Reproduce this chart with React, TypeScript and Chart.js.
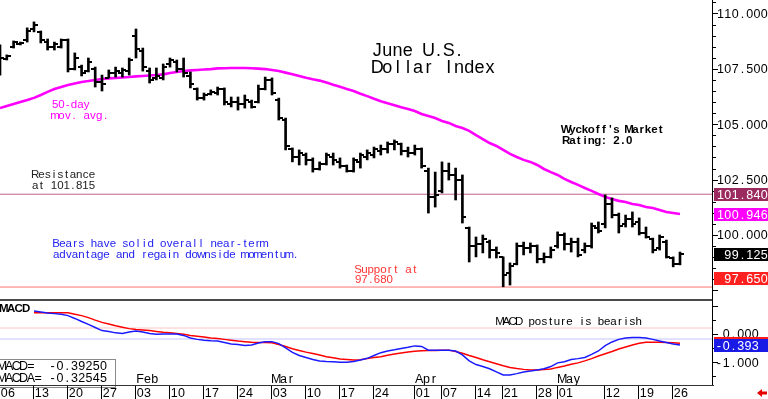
import React, { useEffect, useRef } from "react";
import { Chart, registerables } from "chart.js";
Chart.register(...registerables);

// ---------- DATA (one entry per trading day, Jan 06 .. May 27) ----------
const opens = [
  107.4, 107.95, 108.5, 108.62, 108.8, 109.3, 109.15, 108.7, 108.5, 108.5,
  108.8, 107.5, 107.6, 107.4, 107.5, 106.9, 107.1, 107.3, 107.3, 107.4,
  109.0, 108.3, 107.4, 107.1, 107.1, 107.7, 107.8, 107.5, 107.2, 106.6,
  106.2, 106.35, 106.4, 106.6, 105.9, 106.0, 105.9, 106.0, 106.0, 106.6,
  107.0, 106.1, 105.2, 103.9, 103.5, 103.6, 103.4, 103.0, 103.2, 103.5,
  103.3, 103.1, 102.9, 103.3, 103.5, 103.6, 103.8, 103.9, 104.1, 104.1,
  103.8, 103.7, 103.9, 102.9, 101.7, 102.0, 102.9, 102.7, 102.5, 100.3,
  99.5, 99.6, 99.7, 99.3, 99.0, 98.3, 98.7, 99.5, 99.4, 99.5,
  98.9, 99.0, 99.5, 100.0, 99.6, 99.7, 99.3, 99.5, 100.3, 100.5,
  101.4, 100.9, 100.5, 100.7, 100.6, 100.1, 99.8, 99.4, 99.7, 98.95,
  98.7,
];
const highs = [
  108.58, 108.13, 108.76, 108.71, 109.35, 109.62, 109.21, 108.85, 108.71, 108.85,
  108.85, 108.22, 107.67, 107.99, 107.58, 107.22, 107.45, 107.58, 107.54, 107.99,
  109.3, 108.44, 107.54, 107.54, 107.72, 107.99, 107.9, 107.99, 107.36, 106.64,
  106.41, 106.55, 106.68, 106.64, 106.23, 106.23, 106.32, 106.09, 106.77, 107.13,
  107.09, 106.18, 105.28, 103.93, 103.84, 103.7, 103.48, 103.3, 103.7, 103.7,
  103.48, 103.16, 103.48, 103.7, 103.84, 103.97, 104.06, 104.2, 104.29, 104.15,
  103.97, 104.06, 103.93, 103.02, 102.84, 103.3, 103.25, 103.02, 102.71, 100.36,
  99.91, 100.0, 99.77, 99.46, 99.01, 98.74, 99.64, 99.68, 99.64, 99.55,
  99.19, 99.46, 100.14, 100.09, 99.86, 99.86, 99.64, 100.54, 100.59, 101.81,
  101.67, 100.99, 100.9, 101.04, 100.77, 100.36, 99.86, 100.0, 99.77, 99.01,
  99.23,
];
const lows = [
  107.22, 107.9, 108.44, 108.58, 108.71, 109.17, 108.67, 108.35, 108.35, 108.44,
  107.36, 107.45, 107.18, 107.36, 106.68, 106.5, 107.09, 107.13, 107.13, 107.22,
  107.99, 107.4, 106.86, 107.0, 107.0, 107.58, 107.36, 107.13, 106.64, 106.09,
  106.09, 106.32, 106.32, 105.87, 105.78, 105.64, 105.73, 105.73, 105.96, 106.55,
  106.32, 105.19, 103.84, 103.3, 103.16, 103.16, 102.84, 102.93, 103.16, 103.16,
  103.02, 102.84, 102.84, 103.02, 103.39, 103.48, 103.61, 103.7, 103.84, 103.61,
  103.52, 103.61, 103.02, 100.99, 101.26, 101.9, 102.48, 101.58, 100.54, 98.78,
  99.01, 99.19, 98.96, 98.96, 97.66, 97.74, 98.65, 99.1, 99.19, 98.74,
  98.74, 98.96, 99.41, 99.32, 99.23, 99.01, 99.19, 99.41, 100.09, 100.32,
  100.77, 100.09, 100.36, 100.36, 100.0, 99.86, 99.19, 99.32, 98.96, 98.56,
  98.65,
];
const closes = [
  108.0, 108.1, 108.7, 108.66, 109.2, 109.5, 108.8, 108.5, 108.6, 108.8,
  107.5, 108.0, 107.3, 107.8, 106.9, 106.8, 107.3, 107.4, 107.45, 107.9,
  108.4, 107.6, 107.0, 107.2, 107.6, 107.9, 107.5, 107.3, 106.8, 106.2,
  106.3, 106.45, 106.6, 106.0, 106.0, 105.9, 106.1, 105.8, 106.6, 107.0,
  106.4, 105.3, 104.0, 103.5, 103.7, 103.4, 103.0, 103.2, 103.6, 103.4,
  103.1, 102.9, 103.4, 103.6, 103.7, 103.9, 103.9, 104.1, 104.2, 103.8,
  103.7, 103.9, 103.1, 101.7, 101.8, 102.9, 102.7, 102.5, 100.8, 99.5,
  99.6, 99.8, 99.3, 99.2, 98.2, 98.6, 99.5, 99.4, 99.5, 98.9,
  99.0, 99.3, 100.0, 99.6, 99.7, 99.1, 99.5, 100.4, 100.2, 101.4,
  100.9, 100.4, 100.7, 100.5, 100.1, 99.9, 99.3, 99.9, 99.0, 98.7,
  99.125,
];
const ma50 = [
  105.73, 105.82, 105.91, 106.0, 106.09, 106.19, 106.32, 106.46, 106.59, 106.68,
  106.77, 106.84, 106.91, 106.95, 107.0, 107.04, 107.07, 107.09, 107.11, 107.13,
  107.16, 107.18, 107.2, 107.22, 107.25, 107.31, 107.36, 107.4, 107.43, 107.45,
  107.47, 107.49, 107.52, 107.53, 107.54, 107.54, 107.54, 107.53, 107.51, 107.49,
  107.45, 107.4, 107.33, 107.26, 107.18, 107.1, 107.03, 106.97, 106.88, 106.78,
  106.69, 106.59, 106.5, 106.38, 106.27, 106.15, 106.04, 105.95, 105.86, 105.77,
  105.69, 105.6, 105.46, 105.37, 105.28, 105.15, 105.06, 104.92, 104.83, 104.7,
  104.51, 104.33, 104.15, 104.02, 103.84, 103.66, 103.52, 103.39, 103.3, 103.16,
  102.98, 102.84, 102.71, 102.53, 102.39, 102.26, 102.12, 101.99, 101.85, 101.72,
  101.63, 101.54, 101.49, 101.4, 101.35, 101.26, 101.22, 101.13, 101.04, 100.99,
  100.946,
];
// MACD series start at trading day index 5 (Jan 13)
const macdStart = 5;
const macdLine = [
  0.81, 0.78, 0.74, 0.72, 0.7, 0.65, 0.55, 0.44, 0.34, 0.23,
  0.12, 0.09, 0.04, 0.02, 0.07, 0.11, 0.07, 0.02, -0.01, 0.0,
  0.0, 0.0, -0.05, -0.14, -0.19, -0.22, -0.24, -0.25, -0.3, -0.35,
  -0.37, -0.41, -0.39, -0.32, -0.27, -0.27, -0.34, -0.49, -0.65, -0.76,
  -0.83, -0.9, -0.95, -0.97, -0.98, -1.0, -1.0, -0.97, -0.92, -0.86,
  -0.76, -0.66, -0.6, -0.56, -0.51, -0.47, -0.42, -0.44, -0.57, -0.57,
  -0.57, -0.57, -0.6, -0.74, -0.95, -1.08, -1.15, -1.23, -1.34, -1.45,
  -1.45, -1.4, -1.34, -1.31, -1.27, -1.23, -1.15, -1.02, -0.98, -0.9,
  -0.87, -0.83, -0.72, -0.6, -0.41, -0.28, -0.19, -0.14, -0.12, -0.12,
  -0.14, -0.19, -0.25, -0.3, -0.35, -0.3925,
];
const macdAvg = [
  0.75, 0.75, 0.75, 0.75, 0.75, 0.75, 0.7, 0.65, 0.58, 0.49,
  0.41, 0.35, 0.29, 0.24, 0.19, 0.16, 0.14, 0.12, 0.09, 0.06,
  0.04, 0.02, -0.01, -0.05, -0.08, -0.11, -0.14, -0.16, -0.19, -0.22,
  -0.25, -0.27, -0.29, -0.3, -0.3, -0.31, -0.37, -0.44, -0.52, -0.58,
  -0.64, -0.69, -0.74, -0.8, -0.84, -0.88, -0.9, -0.92, -0.91, -0.87,
  -0.83, -0.8, -0.75, -0.71, -0.67, -0.64, -0.61, -0.59, -0.58, -0.58,
  -0.57, -0.57, -0.62, -0.68, -0.76, -0.83, -0.91, -0.98, -1.05, -1.12,
  -1.18, -1.22, -1.25, -1.27, -1.27, -1.25, -1.24, -1.18, -1.13, -1.07,
  -1.02, -0.95, -0.87, -0.78, -0.7, -0.62, -0.53, -0.46, -0.39, -0.33,
  -0.29, -0.29, -0.29, -0.3, -0.31, -0.32545,
];
const dateTickIndex = [0, 5, 10, 15, 20, 25, 30, 35, 40, 45, 50, 55, 61, 65, 70, 74, 79, 82, 89, 94, 99];
const dateTickLabels = ["06", "13", "20", "27", "03", "10", "17", "24", "03", "10", "17", "24", "01", "07", "14", "21", "28", "01", "12", "19", "26"];
const monthIndex = [20, 40, 61, 82];
const monthLabels = ["Feb", "Mar", "Apr", "May"];
const priceTickValues = [100, 102.5, 105, 107.5, 110];
const macdTickValues = [0, -1];
const resistanceLevel = 101.84;
const supportLevel = 97.65;
const lastClose = 99.125;
const lastMA = 100.946;
const macdUpperRef = 0.212;
const macdLowerRef = -0.177;
const macdLegendLines = ["MACD=  -0.39250", "MACDA= -0.32545"];

const FONT = '"Liberation Sans", Arial, sans-serif';
const X_MAX = 712 / 6.8;

function drawMono(ctx: CanvasRenderingContext2D, s: string, x: number, cy: number, size: number, cell: number, color: string, bold = false) {
  ctx.save();
  ctx.font = `${bold ? "bold " : ""}${size}px ${FONT}`;
  ctx.fillStyle = color;
  ctx.textAlign = "center";
  ctx.textBaseline = "alphabetic";
  const by = cy + size * 0.358;
  for (let k = 0; k < s.length; k++) {
    if (s[k] !== " ") ctx.fillText(s[k], x + cell * (k + 0.5), by);
  }
  ctx.restore();
}

function labelBox(ctx: CanvasRenderingContext2D, text: string, cy: number, bg: string, textRight: number) {
  ctx.fillStyle = bg;
  ctx.fillRect(714, Math.round(cy - 6.5), 54, 13);
  drawMono(ctx, text, textRight - text.length * 7.3, cy, 12.5, 7.3, "#fff");
}

const overlay = {
  id: "overlay",
  afterDraw(chart: any) {
    const ctx: CanvasRenderingContext2D = chart.ctx;
    const xs = chart.scales.x;
    const ys = chart.scales.y;
    const y2 = chart.scales.y2;
    ctx.save();

    // panel separator
    ctx.fillStyle = "#4a4a4a";
    ctx.fillRect(0, 299, 713, 2);

    // annotations (price panel)
    drawMono(ctx, "June U.S.", 372, 50, 18, 10.25, "#000");
    drawMono(ctx, "Dollar Index", 372, 66.5, 18, 10.25, "#000");
    drawMono(ctx, "50-day", 52, 103.5, 11.5, 6.3, "#ff00ff");
    drawMono(ctx, "mov. avg.", 52, 114.5, 11.5, 6.3, "#ff00ff");
    drawMono(ctx, "Wyckoff's Market", 563, 129, 11.5, 6.3, "#000", true);
    drawMono(ctx, "Rating: 2.0", 563, 140, 11.5, 6.3, "#000", true);
    drawMono(ctx, "Resistance", 32, 174, 11.5, 6.3, "#222");
    drawMono(ctx, "at 101.815", 32, 185, 11.5, 6.3, "#222");
    drawMono(ctx, "Bears have solid overall near-term", 53, 242.5, 11.5, 6.3, "#2323f0");
    drawMono(ctx, "advantage and regain downside momentum.", 53, 253.5, 11.5, 6.3, "#2323f0");
    drawMono(ctx, "Support at", 355, 269, 11.5, 6.3, "#ff3333");
    drawMono(ctx, "97.680", 355, 279, 11.5, 6.3, "#ff3333");

    // right axis line
    ctx.fillStyle = "#000";
    ctx.fillRect(712, 0, 1, 386);

    // price ticks
    for (let v = 97.5; v <= 110.51; v += 0.5) {
      const py = Math.round(ys.getPixelForValue(v));
      if (py < 0 || py > 297) continue;
      const major = Math.abs(v / 2.5 - Math.round(v / 2.5)) < 1e-6;
      ctx.fillRect(713, py, major ? 5 : 3, 1);
    }
    for (const v of priceTickValues) {
      const py = ys.getPixelForValue(v);
      drawMono(ctx, v.toFixed(3), 768 - 7 * 7.3, py, 12.5, 7.3, "#000");
    }
    labelBox(ctx, resistanceLevel.toFixed(3), ys.getPixelForValue(resistanceLevel), "#9b2a5e", 768);
    labelBox(ctx, lastMA.toFixed(3), ys.getPixelForValue(lastMA), "#ff00ff", 768);
    labelBox(ctx, lastClose.toFixed(3), ys.getPixelForValue(lastClose), "#000", 768);
    labelBox(ctx, supportLevel.toFixed(3), ys.getPixelForValue(supportLevel) - 9, "#ff2020", 768);

    // MACD panel texts
    drawMono(ctx, "MACD", 0, 307.5, 11.5, 7.5, "#000", true);
    drawMono(ctx, "MACD posture is bearish", 497, 321, 11.5, 6.3, "#000");

    // MACD axis ticks and labels
    ctx.fillStyle = "#000";
    for (let v = -1.5; v <= 1.01; v += 0.5) {
      const py = Math.round(y2.getPixelForValue(v));
      const major = Math.abs(v - Math.round(v)) < 1e-6;
      ctx.fillRect(713, py, major ? 5 : 3, 1);
    }
    for (const v of macdTickValues) {
      const t = v.toFixed(3);
      drawMono(ctx, t, 759 - t.length * 7.3, y2.getPixelForValue(v), 12.5, 7.3, "#000");
    }
    const mA = macdAvg[macdAvg.length - 1];
    const mL = macdLine[macdLine.length - 1];
    ctx.fillStyle = "#ff1a1a";
    ctx.fillRect(714, Math.round(y2.getPixelForValue(mA) - 6.5), 54, 13);
    labelBox(ctx, mL.toFixed(3), y2.getPixelForValue(mL), "#1a1ae6", 759);

    // month labels
    for (let k = 0; k < monthIndex.length; k++) {
      const px = Math.round(xs.getPixelForValue(monthIndex[k]));
      drawMono(ctx, monthLabels[k], px + 0.5, 379, 12.5, 7.3, "#000");
    }

    // legend box
    ctx.fillStyle = "#fff";
    ctx.fillRect(0, 359, 116, 27);
    ctx.strokeStyle = "#8a8a8a";
    ctx.lineWidth = 1;
    ctx.strokeRect(-1.5, 359.5, 117, 28);
    drawMono(ctx, macdLegendLines[0], -1.75, 366, 12.5, 7.25, "#000");
    drawMono(ctx, macdLegendLines[1], -1.75, 377.5, 12.5, 7.25, "#000");

    // date row
    ctx.fillStyle = "#333";
    ctx.fillRect(0, 385, 714, 1);
    ctx.fillStyle = "#000";
    for (let k = 0; k < dateTickIndex.length; k++) {
      const px = Math.round(xs.getPixelForValue(dateTickIndex[k]));
      ctx.fillRect(px - 1, 386, 1, 13);
      drawMono(ctx, dateTickLabels[k], px + 0.5, 392.5, 12.5, 7.3, "#000");
    }

    // red arrow
    ctx.fillStyle = "#e60000";
    ctx.beginPath();
    ctx.moveTo(757, 393);
    ctx.lineTo(762, 389);
    ctx.lineTo(762, 391.5);
    ctx.lineTo(767, 391.5);
    ctx.lineTo(767, 394.5);
    ctx.lineTo(762, 394.5);
    ctx.lineTo(762, 397);
    ctx.closePath();
    ctx.fill();

    ctx.restore();
  },
};

function makeTick(left: boolean): HTMLCanvasElement {
  const c = document.createElement("canvas");
  c.width = 8;
  c.height = 2;
  const g = c.getContext("2d")!;
  g.fillStyle = "#000";
  g.fillRect(left ? 0 : 4, 0, 4, 2);
  return c;
}

export default function App() {
  const ref = useRef<HTMLCanvasElement>(null);
  useEffect(() => {
    document.body.style.margin = "0";
    const idx = highs.map((_, i) => i);
    const openTick = makeTick(true);
    const closeTick = makeTick(false);
    const hline = (v: number) => [{ x: 0, y: v }, { x: X_MAX, y: v }];
    const chart = new Chart(ref.current!, {
      type: "bar",
      data: {
        datasets: [
          {
            type: "line", label: "resistance", data: hline(resistanceLevel), yAxisID: "y",
            borderColor: "#c0628e", borderWidth: 1, pointRadius: 0, order: 20,
          },
          {
            type: "line", label: "support", data: hline(supportLevel), yAxisID: "y",
            borderColor: "#ff7373", borderWidth: 1, pointRadius: 0, order: 20,
          },
          {
            type: "line", label: "macdUpper", data: hline(macdUpperRef), yAxisID: "y2",
            borderColor: "#ffc4c4", borderWidth: 1, pointRadius: 0, order: 20,
          },
          {
            type: "line", label: "macdLower", data: hline(macdLowerRef), yAxisID: "y2",
            borderColor: "#c4c4ff", borderWidth: 1, pointRadius: 0, order: 20,
          },
          {
            type: "line", label: "50-day", data: idx.map((i) => ({ x: i, y: ma50[i] })), yAxisID: "y",
            borderColor: "#ff00ff", borderWidth: 2.6, pointRadius: 0, tension: 0, order: 10,
          },
          {
            type: "bar", label: "range", data: idx.map((i) => ({ x: i, y: [lows[i], highs[i]] })) as any, yAxisID: "y",
            backgroundColor: "#000", borderWidth: 0, barThickness: 2, order: 5,
          },
          {
            type: "line", label: "open", data: idx.map((i) => ({ x: i, y: opens[i] })), yAxisID: "y",
            showLine: false, pointStyle: openTick as any, pointRadius: 3, order: 4,
          },
          {
            type: "line", label: "close", data: idx.map((i) => ({ x: i, y: closes[i] })), yAxisID: "y",
            showLine: false, pointStyle: closeTick as any, pointRadius: 3, order: 4,
          },
          {
            type: "line", label: "MACDA", data: macdAvg.map((v, k) => ({ x: k + macdStart, y: v })), yAxisID: "y2",
            borderColor: "#ff0000", borderWidth: 1.5, pointRadius: 0, tension: 0, order: 3,
          },
          {
            type: "line", label: "MACD", data: macdLine.map((v, k) => ({ x: k + macdStart, y: v })), yAxisID: "y2",
            borderColor: "#1a1aff", borderWidth: 1.5, pointRadius: 0, tension: 0, order: 2,
          },
        ] as any,
      },
      options: {
        animation: false,
        responsive: false,
        events: [],
        layout: { autoPadding: false, padding: { left: 0, top: 0, right: 56, bottom: 14 } },
        plugins: { legend: { display: false }, tooltip: { enabled: false } },
        scales: {
          x: { type: "linear", min: 0, max: X_MAX, display: false, offset: false },
          y: { type: "linear", min: 93.227, max: 110.609, display: false },
          y2: { type: "linear", min: -1.802, max: 11.802, display: false },
        },
      } as any,
      plugins: [overlay],
    });
    return () => chart.destroy();
  }, []);
  return (
    <div style={{ position: "fixed", left: 0, top: 0, width: 768, height: 399, background: "#fff" }}>
      <canvas ref={ref} width={768} height={399} style={{ display: "block" }} />
    </div>
  );
}
